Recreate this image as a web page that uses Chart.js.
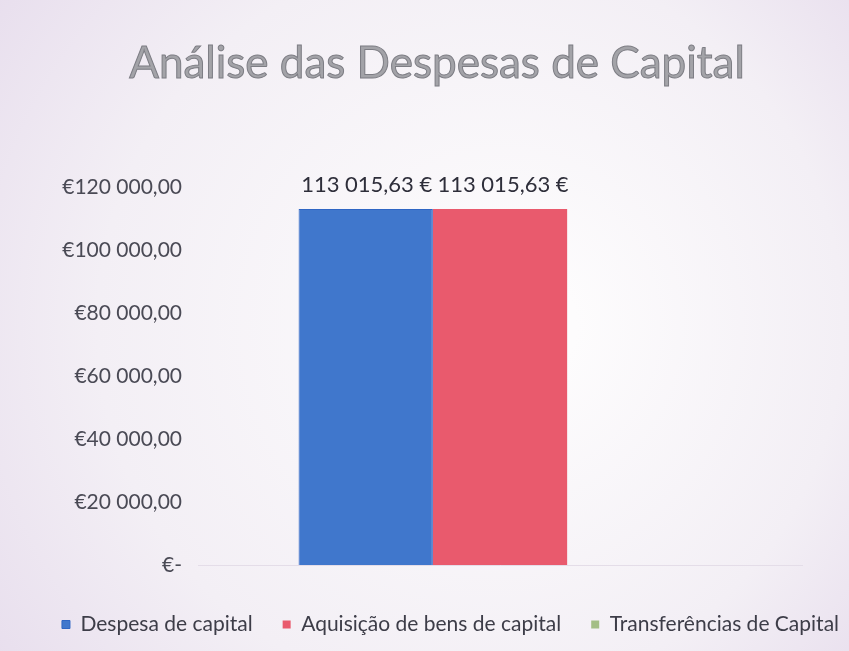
<!DOCTYPE html>
<html><head><meta charset="utf-8">
<script src="https://cdn.jsdelivr.net/npm/chart.js@4/dist/chart.umd.min.js"></script>
<style>html,body{margin:0;padding:0;background:#f4f0f6}#w{width:849px;height:651px}</style>
</head><body><div id="w"><canvas id="c"></canvas></div>
<script>
const categories = [''];
const seriesNames = ['Despesa de capital', 'Aquisição de bens de capital', 'Transferências de Capital'];
const despesaCapital = [113015.63];
const aquisicaoBens = [113015.63];
const transferencias = [0];
const yTicks = [0, 20000, 40000, 60000, 80000, 100000, 120000];
const titleText = 'Análise das Despesas de Capital';

const FONT = 'Lato, "Open Sans", sans-serif';

function fmt(v) {
  const parts = v.toFixed(2).split('.');
  const int = parts[0].replace(/\B(?=(\d{3})+(?!\d))/g, ' ');
  return int + ',' + parts[1];
}

const bgPlugin = {
  id: 'bg',
  beforeDraw(chart) {
    const ctx = chart.ctx, w = chart.width, h = chart.height;
    const g = ctx.createRadialGradient(w*0.62, h*0.5, 50, w*0.5, h*0.5, w*0.75);
    g.addColorStop(0, '#fdfcfd');
    g.addColorStop(0.55, '#f3eff5');
    g.addColorStop(1, '#e3d7ea');
    ctx.save();
    ctx.fillStyle = g;
    ctx.fillRect(0, 0, w, h);
    ctx.restore();
  }
};

const legendShift = {
  id: 'legendShift',
  afterLayout(chart) {
    if (chart.legend) { chart.legend.left += 26; chart.legend.right += 26; }
  }
};

const titlePlugin = {
  id: 'ctitle',
  afterDraw(chart) {
    const ctx = chart.ctx;
    ctx.save();
    ctx.font = '44px ' + FONT;
    ctx.textAlign = 'center';
    ctx.textBaseline = 'middle';
    ctx.fillStyle = '#a3a3a8';
    ctx.strokeStyle = '#7d7d84';
    ctx.lineWidth = 1;
    ctx.fillText(titleText, 437, 64);
    ctx.strokeText(titleText, 437, 64);
    ctx.restore();
  }
};

const labelPlugin = {
  id: 'vlabels',
  afterDatasetsDraw(chart) {
    const ctx = chart.ctx;
    ctx.save();
    ctx.font = '22px ' + FONT;
    ctx.fillStyle = '#2e2e3a';
    ctx.textAlign = 'center';
    ctx.textBaseline = 'bottom';
    chart.data.datasets.forEach((ds, i) => {
      const meta = chart.getDatasetMeta(i);
      meta.data.forEach((el, j) => {
        const v = ds.data[j];
        if (!v) return;
        ctx.fillText(fmt(v) + ' €', el.x + (i === 1 ? 3 : 1), el.y - 13);
      });
    });
    ctx.restore();
  }
};

new Chart(document.getElementById('c'), {
  type: 'bar',
  data: {
    labels: categories,
    datasets: [
      { label: seriesNames[0], data: despesaCapital, backgroundColor: '#4077cc', borderColor: '#2f66c4', borderWidth: 1 },
      { label: seriesNames[1], data: aquisicaoBens, backgroundColor: '#e95a6d', borderColor: '#e95a6d', borderWidth: 0 },
      { label: seriesNames[2], data: transferencias, backgroundColor: '#a4be86', borderWidth: 0 }
    ]
  },
  plugins: [bgPlugin, legendShift, labelPlugin, titlePlugin],
  options: {
    responsive: true,
    maintainAspectRatio: false,
    animation: false,
    layout: { padding: { left: 0, right: 0, top: 187, bottom: 6 } },
    datasets: { bar: { categoryPercentage: 0.667, barPercentage: 1.0 } },
    scales: {
      x: {
        grid: { display: false },
        border: { display: true, color: '#e4dde8' },
        ticks: { display: false },
        afterFit(s) { s.height = 19; }
      },
      y: {
        min: 0, max: 120000,
        afterBuildTicks(s) { s.ticks = yTicks.map(v => ({ value: v })); },
        grid: { display: false },
        border: { display: false },
        ticks: {
          padding: 8,
          color: '#4a4a55',
          font: { family: FONT, size: 21 },
          callback: v => v === 0 ? '€-' : '€' + fmt(v)
        },
        afterFit(s) { s.width = 198; }
      },
      y2: {
        type: 'linear',
        position: 'right',
        display: true,
        grid: { display: false },
        border: { display: false },
        ticks: { display: false },
        afterFit(s) { s.width = 47; }
      }
    },
    plugins: {
      title: { display: false },
      legend: {
        position: 'bottom',
        labels: {
          color: '#3d3d48',
          font: { family: FONT, size: 21 },
          boxWidth: 8, boxHeight: 8,
          padding: 30
        }
      },
      tooltip: { enabled: false }
    }
  }
});
</script>
</body></html>
